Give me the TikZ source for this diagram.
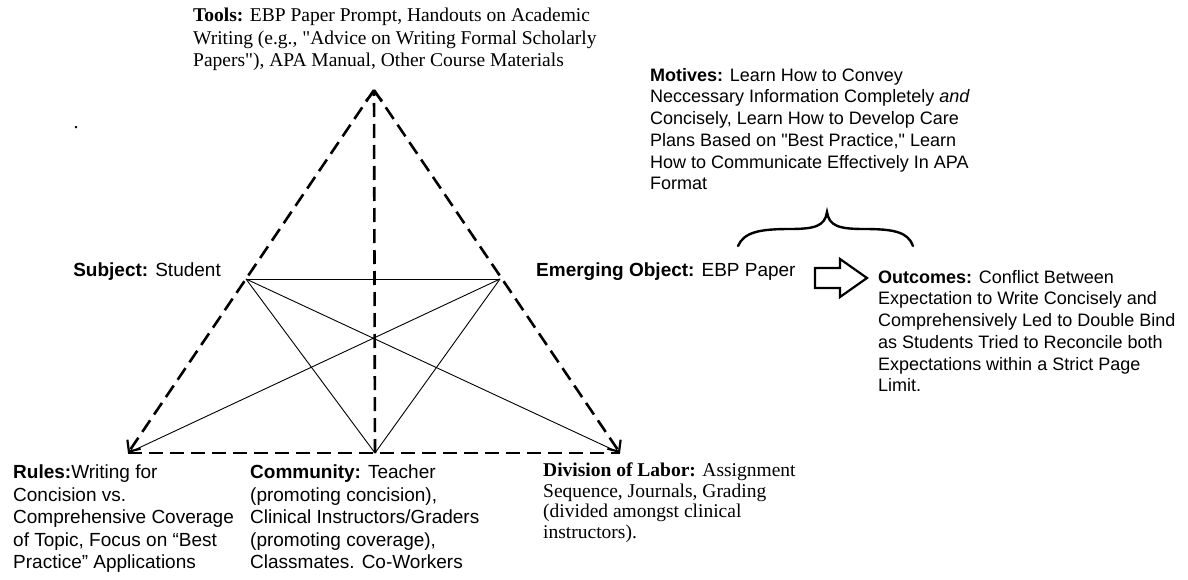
\documentclass[tikz,border=0pt]{standalone}
\usepackage{fontspec}
\setmainfont{Liberation Serif}
\newfontfamily\arialf{Liberation Sans}
\usetikzlibrary{arrows.meta}
\tikzset{
  sans/.style={inner sep=0pt, align=left, font=\arialf\fontsize{18}{21.7}\selectfont},
  sanslab/.style={inner sep=0pt, align=left, font=\arialf\fontsize{19}{22}\selectfont},
  sansbig/.style={inner sep=0pt, align=left, font=\arialf\fontsize{19}{22.4}\selectfont},
  serif/.style={inner sep=0pt, align=left, font=\fontsize{19.5}{22.3}\selectfont},
  edge/.style={line width=2.6pt, dash pattern=on 14pt off 7pt},
  thin/.style={line width=0.9pt},
  tip/.style={-{Straight Barb[length=9pt,width=16pt,line width=2.2pt]}},
}
\begin{document}
\begin{tikzpicture}[x=1pt,y=-1pt]
\useasboundingbox (0,0) rectangle (1188,580);
% vertices
\coordinate (A) at (374,90);
\coordinate (BL) at (128,453);
\coordinate (BM) at (375,453);
\coordinate (BR) at (620,453);
\coordinate (S) at (246,279);
\coordinate (E) at (500,279);
% thin lines
\draw[thin] (S) -- (E);
\draw[thin] (S) -- (BM);
\draw[thin] (S) -- (BR);
\draw[thin] (E) -- (BL);
\draw[thin] (E) -- (BM);
% dashed edges
\draw[edge,tip] (BM) -- (A);
\draw[edge,tip] (A) -- (BL);
\draw[edge,tip] (A) -- (BR);
\draw[edge] (BL) -- (BM) -- (BR);
% labels
\node[serif, anchor=north west] (tools) at (193,8) {\textbf{Tools:} EBP Paper Prompt, Handouts on Academic\\Writing (e.g., \textquotedbl Advice on Writing Formal Scholarly\\Papers\textquotedbl), APA Manual, Other Course Materials};
\node[sans, anchor=north west] (motives) at (650,68) {\textbf{Motives:} Learn How to Convey\\Neccessary Information Completely \textit{and}\\Concisely, Learn How to Develop Care\\Plans Based on "Best Practice," Learn\\How to Communicate Effectively In APA\\Format};
\node[sanslab, anchor=base east] (subject) at (221,276) {\textbf{Subject:} Student};
\node[sanslab, anchor=base west] (object) at (536,276) {\textbf{Emerging Object:} EBP Paper};
\node[sans, anchor=north west] (outcomes) at (878,270) {\textbf{Outcomes:} Conflict Between\\Expectation to Write Concisely and\\Comprehensively Led to Double Bind\\as Students Tried to Reconcile both\\Expectations within a Strict Page\\Limit.};
\node[sansbig, anchor=north west] (rules) at (13,465) {\textbf{Rules:}Writing for\\Concision vs.\\Comprehensive Coverage\\of Topic, Focus on “Best\\Practice” Applications};
\node[sansbig, anchor=north west] (community) at (250,465) {\textbf{Community:} Teacher\\(promoting concision),\\Clinical Instructors/Graders\\(promoting coverage),\\Classmates. Co-Workers};
\node[serif, anchor=north west, font=\fontsize{19.5}{20.5}\selectfont] (division) at (543,463) {\textbf{Division of Labor:} Assignment\\Sequence, Journals, Grading\\(divided amongst clinical\\instructors).};
\node[inner sep=0pt, font=\fontsize{20}{20}\selectfont] (dot) at (76,128) {.};
% brace
\draw[line width=2.4pt, line cap=round] (738,246) .. controls (744,232) and (760,229) .. (790,229)
  .. controls (815,229) and (825,226) .. (827,212)
  .. controls (829,226) and (839,229) .. (864,229)
  .. controls (894,229) and (908,232) .. (913,246);
% block arrow
\draw[line width=2.2pt, line join=miter] (815,268) -- (840,268) -- (840,259) -- (867,278) -- (840,297) -- (840,288) -- (815,288) -- cycle;
\end{tikzpicture}
\end{document}
